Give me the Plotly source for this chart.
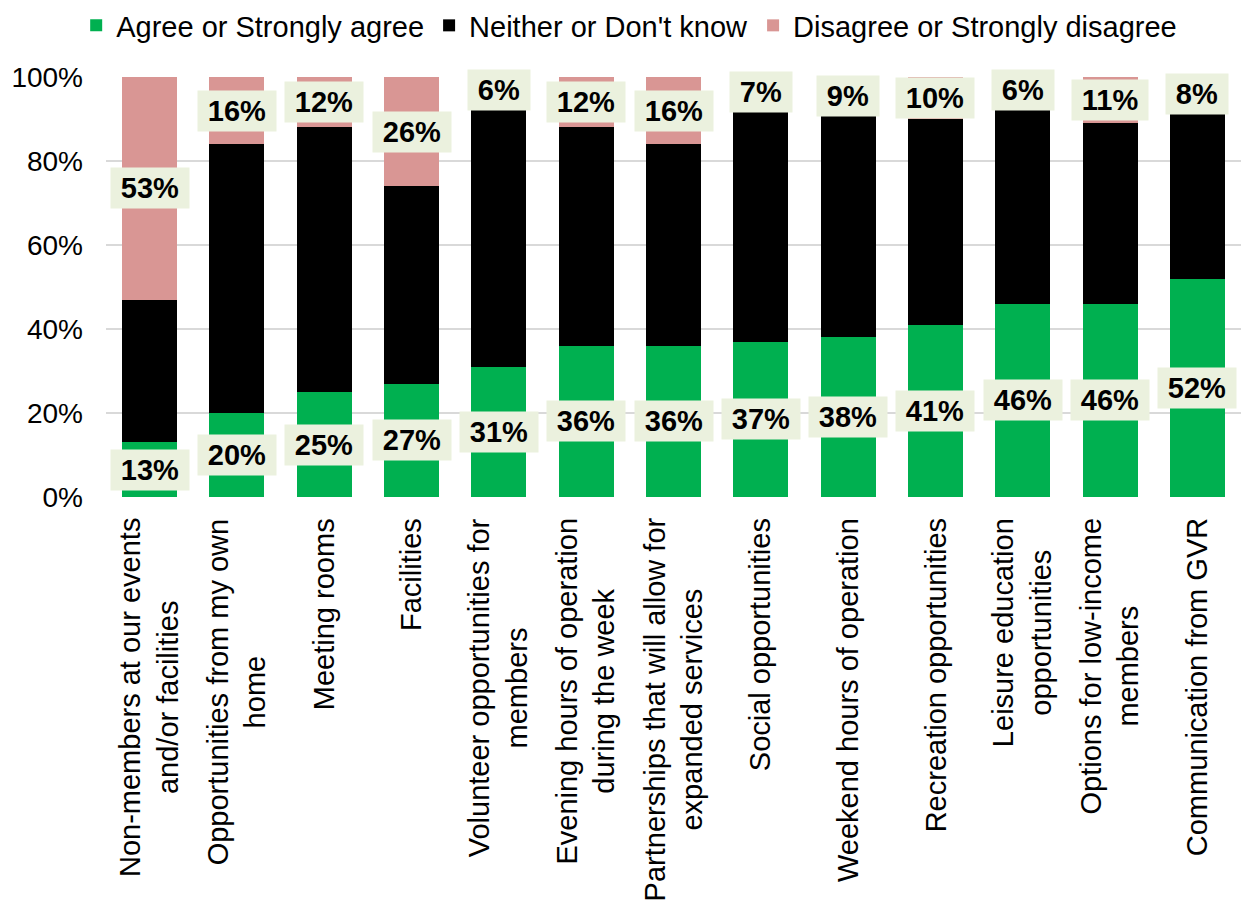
import plotly.graph_objects as go

# Survey items (one stacked bar each)
categories = [
    "Non-members at our events<br>and/or facilities",
    "Opportunities from my own<br>home",
    "Meeting rooms",
    "Facilities",
    "Volunteer opportunities for<br>members",
    "Evening hours of operation<br>during the week",
    "Partnerships that will allow for<br>expanded services",
    "Social opportunities",
    "Weekend hours of operation",
    "Recreation opportunities",
    "Leisure education<br>opportunities",
    "Options for low-income<br>members",
    "Communication from GVR",
]

# Percent of respondents per response group
agree = [13, 20, 25, 27, 31, 36, 36, 37, 38, 41, 46, 46, 52]
disagree = [53, 16, 12, 26, 6, 12, 16, 7, 9, 10, 6, 11, 8]
neither = [100 - a - d for a, d in zip(agree, disagree)]

y_ticks = [0, 20, 40, 60, 80, 100]
y_tick_text = ["0%", "20%", "40%", "60%", "80%", "100%"]

GREEN = "#00B050"
BLACK = "#000000"
PINK = "#D99694"
LABEL_BG = "#EBF1DE"
FONT = "Arial, Liberation Sans, sans-serif"
PAD = "\u2009"  # thin space gives the value boxes a little extra side padding

x_idx = list(range(len(categories)))

fig = go.Figure()
fig.add_trace(go.Bar(x=x_idx, y=agree, name="Agree or Strongly agree",
                     marker=dict(color=GREEN, line=dict(width=0))))
fig.add_trace(go.Bar(x=x_idx, y=neither, name="Neither or Don't know",
                     marker=dict(color=BLACK, line=dict(width=0))))
fig.add_trace(go.Bar(x=x_idx, y=disagree, name="Disagree or Strongly disagree",
                     marker=dict(color=PINK, line=dict(width=0))))

annotations = []
# Value boxes: agree centred in its segment, disagree centred in the top segment
for i, (a, d) in enumerate(zip(agree, disagree)):
    for val, ypos in ((a, a / 2), (d, 100 - d / 2)):
        annotations.append(dict(x=i, y=ypos, xref="x", yref="y",
                                text=f"<b>{PAD}{val}%{PAD}</b>",
                                showarrow=False, bgcolor=LABEL_BG, borderpad=4,
                                font=dict(family=FONT, size=29, color="#000000")))

# Rotated category labels below the axis, lines centred on each other
for i, c in enumerate(categories):
    annotations.append(dict(x=i, y=-0.045, xref="x", yref="paper", text=c,
                            showarrow=False, textangle=-90, xanchor="center",
                            yanchor="top", align="center",
                            font=dict(family=FONT, size=29, color="#000000")))

fig.update_layout(
    width=1241, height=904,
    margin=dict(l=106, r=0, t=77, b=407),
    barmode="stack", bargap=0.37,
    plot_bgcolor="white", paper_bgcolor="white",
    font=dict(family=FONT, size=28, color="#000000"),
    legend=dict(orientation="h", xref="container", yref="container",
                x=0.507, xanchor="center", y=1.0, yanchor="top",
                font=dict(family=FONT, size=29, color="#000000"),
                itemclick=False, traceorder="normal"),
    annotations=annotations,
    showlegend=True,
)
fig.update_xaxes(range=[-0.5, len(categories) - 0.5], showticklabels=False,
                 showgrid=False, zeroline=False, showline=False, ticks="")
fig.update_yaxes(range=[0, 100], tickvals=y_ticks, ticktext=y_tick_text,
                 showgrid=True, gridcolor="#D9D9D9", gridwidth=2,
                 zeroline=False, showline=False, ticks="",
                 ticklabelstandoff=22,
                 tickfont=dict(family=FONT, size=28, color="#000000"))

fig.write_html("out.html")
